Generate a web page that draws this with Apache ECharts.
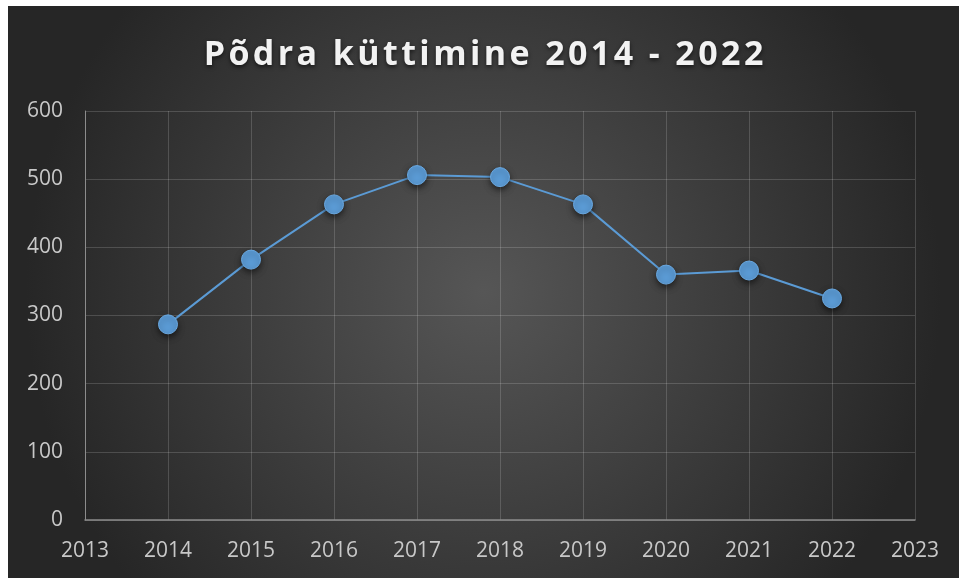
<!DOCTYPE html>
<html>
<head>
<meta charset="utf-8">
<script src="https://cdn.jsdelivr.net/npm/echarts@6/dist/echarts.min.js"></script>
<style>
  html, body { margin: 0; padding: 0; background: #ffffff; }
  #main { position: absolute; left: 8px; top: 6px; width: 951px; height: 572px; }
</style>
</head>
<body>
<div id="main"></div>
<script>
// Põdra küttimine (moose harvest) per year
const years = [2014, 2015, 2016, 2017, 2018, 2019, 2020, 2021, 2022];
const harvest = [287, 382, 463, 506, 503, 463, 360, 366, 325];
const titleText = "Põdra küttimine 2014 - 2022";

let myChart = echarts.init(document.getElementById("main"));
let option = {
  backgroundColor: {
    type: "radial",
    x: 0.5, y: 0.5, r: 0.8,
    colorStops: [
      { offset: 0, color: "#565656" },
      { offset: 1, color: "#262626" },
    ],
  },
  title: {
    // hair spaces between letters for the wide tracking of the original
    text: titleText.split("").join("\u200A"),
    left: "center",
    top: 27,
    textStyle: {
      fontFamily: "Open Sans",
      fontWeight: "bold",
      fontSize: 34,
      color: "#f2f2f2",
      textShadowColor: "rgba(0,0,0,0.6)",
      textShadowBlur: 4,
      textShadowOffsetY: 2,
    },
  },
  grid: { left: 77, right: 44, top: 105, bottom: 58 },
  xAxis: {
    type: "value",
    min: 2013,
    max: 2023,
    interval: 1,
    axisLine: { lineStyle: { color: "#8c8c8c", width: 1.5 } },
    axisTick: { show: false },
    splitLine: { lineStyle: { color: "rgba(255,255,255,0.16)" } },
    axisLabel: {
      color: "#c8c8c8",
      fontFamily: "Open Sans",
      fontSize: 21,
      margin: 21,
      formatter: (v) => String(v),
    },
  },
  yAxis: {
    type: "value",
    min: 0,
    max: 600,
    interval: 100,
    axisLine: { show: true, lineStyle: { color: "#8c8c8c", width: 1 } },
    axisTick: { show: false },
    splitLine: { lineStyle: { color: "rgba(255,255,255,0.16)" } },
    axisLabel: {
      color: "#c8c8c8",
      fontFamily: "Open Sans",
      fontSize: 21,
      margin: 22,
    },
  },
  series: [
    {
      type: "line",
      data: years.map((y, i) => [y, harvest[i]]),
      symbol: "circle",
      symbolSize: 19,
      lineStyle: { color: "#5b9bd5", width: 2 },
      itemStyle: {
        color: "#5b9bd5",
        borderColor: "#6aa8e0",
        borderWidth: 1,
        shadowColor: "rgba(0,0,0,0.55)",
        shadowBlur: 6,
        shadowOffsetY: 3,
      },
      animation: false,
    },
  ],
};
myChart.setOption(option);
</script>
</body>
</html>
